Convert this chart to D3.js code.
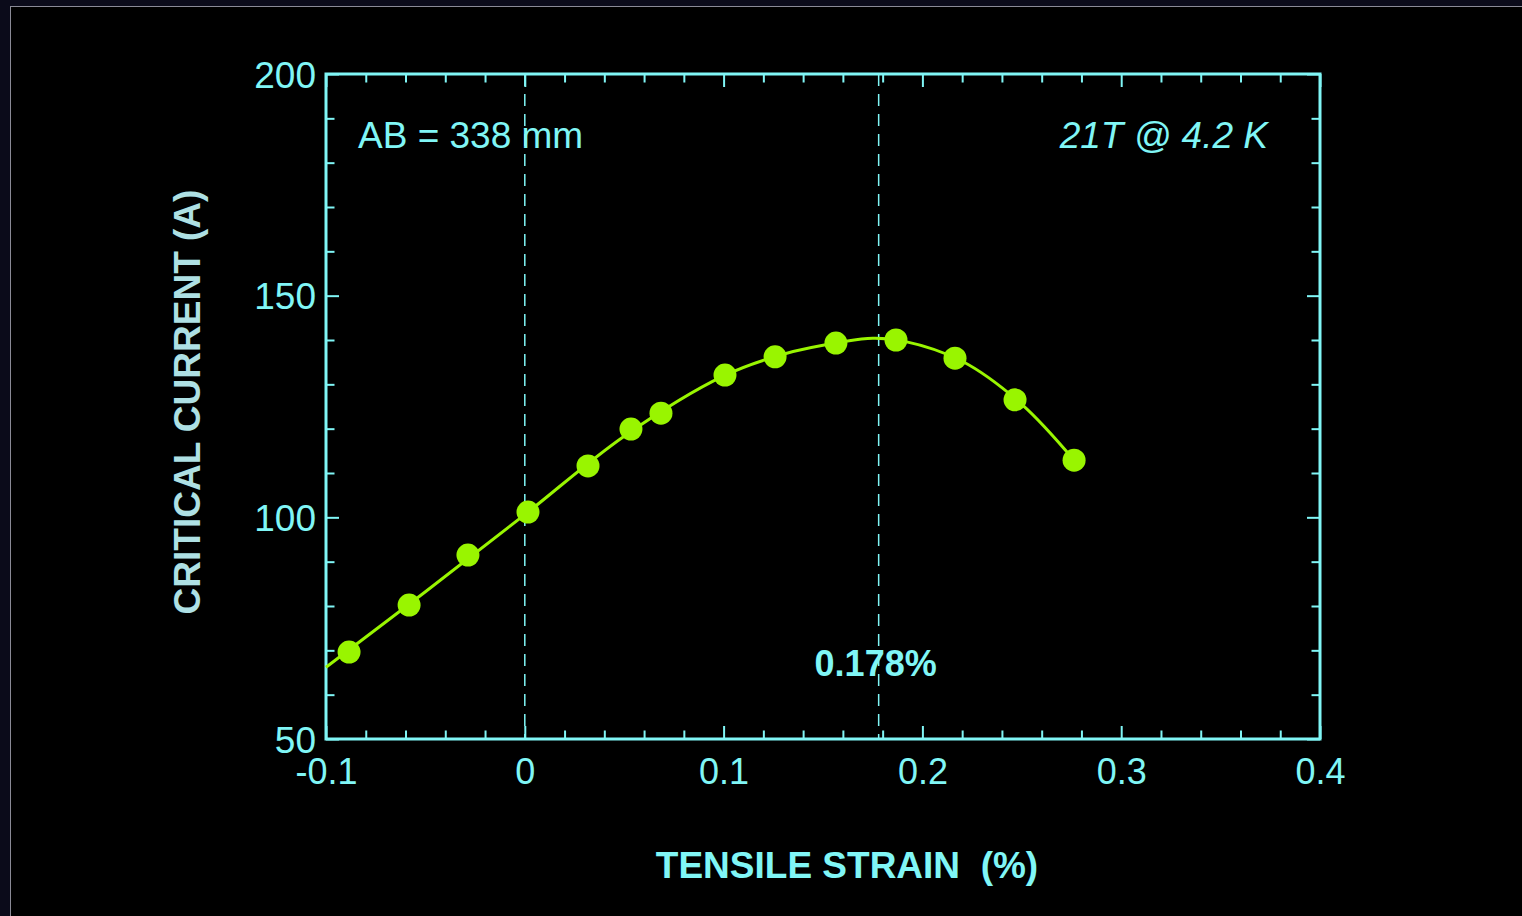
<!DOCTYPE html>
<html>
<head>
<meta charset="utf-8">
<script src="https://cdn.jsdelivr.net/npm/d3@7"></script>
<style>
  html, body { margin: 0; padding: 0; background: #0b0b1a; }
  svg { display: block; }
</style>
</head>
<body>
<svg id="chart" width="1522" height="916"></svg>
<script>
// Measured critical current vs. tensile strain
const strain = [-0.0884, -0.0582, -0.0286, 0.0016, 0.0318, 0.0534, 0.0685, 0.1007, 0.1259, 0.1565, 0.1867, 0.2164, 0.2466, 0.2763];
const current = [69.6, 80.2, 91.5, 101.2, 111.6, 119.9, 123.5, 132.1, 136.2, 139.3, 140.0, 135.9, 126.5, 112.9];

// Smooth fit through the measurements
const fitStrain = [-0.1, -0.05, 0.0, 0.05, 0.1, 0.13, 0.16, 0.175, 0.19, 0.22, 0.25, 0.2763];
const fitCurrent = [66.2, 83.2, 100.6, 118.3, 131.9, 136.8, 139.6, 140.4, 139.8, 135.2, 125.5, 112.9];

// Reference strains marked with dashed lines
const markers = [0, 0.178];
const peakLabel = "0.178%";

const xTicks = [-0.1, 0, 0.1, 0.2, 0.3, 0.4];
const yTicks = [50, 100, 150, 200];

const CYAN = "#80f6f6";
const GREEN = "#99f500";
const FONT = "'Liberation Sans', Arial, Helvetica, sans-serif";

const svg = d3.select("#chart");

// dark frame
svg.append("rect").attr("x", 10.5).attr("y", 6.5).attr("width", 1530).attr("height", 920)
  .attr("fill", "#000").attr("stroke", "#8a8a96").attr("stroke-width", 1);

const L = 326, R = 1320, T = 74, B = 739;
const x = d3.scaleLinear().domain([-0.1, 0.4]).range([L, R]);
const y = d3.scaleLinear().domain([50, 200]).range([B, T]);

const minorX = d3.range(-0.1, 0.4001, 0.02).map(v => +v.toFixed(3));
const minorY = d3.range(50, 200.1, 10);

const isMajorX = v => Math.abs(v * 10 - Math.round(v * 10)) < 1e-6;
const isMajorY = v => v % 50 === 0;

// tick marks, all pointing into the plot
const axes = [
  { gen: d3.axisBottom(x), tr: `translate(0,${B})`, vals: minorX, major: isMajorX, sign: -1, horiz: true },
  { gen: d3.axisTop(x), tr: `translate(0,${T})`, vals: minorX, major: isMajorX, sign: 1, horiz: true },
  { gen: d3.axisLeft(y), tr: `translate(${L},0)`, vals: minorY, major: isMajorY, sign: 1, horiz: false },
  { gen: d3.axisRight(y), tr: `translate(${R},0)`, vals: minorY, major: isMajorY, sign: -1, horiz: false }
];
axes.forEach(a => {
  const g = svg.append("g").attr("transform", a.tr)
    .call(a.gen.tickValues(a.vals).tickSize(0).tickFormat(""));
  g.select(".domain").remove();
  g.selectAll(".tick text").remove();
  g.selectAll(".tick line").each(function(d) {
    const len = a.major(d) ? 13 : 8.5;
    const el = d3.select(this).attr("stroke", CYAN).attr("stroke-width", 2);
    if (a.horiz) el.attr("y1", 0).attr("y2", a.sign * len);
    else el.attr("x1", 0).attr("x2", a.sign * len);
  });
});

// plot frame
svg.append("rect").attr("x", L).attr("y", T).attr("width", R - L).attr("height", B - T)
  .attr("fill", "none").attr("stroke", CYAN).attr("stroke-width", 3);

// tick labels (plain hyphen for negatives)
svg.append("g").attr("transform", `translate(0,${B})`)
  .call(d3.axisBottom(x).tickValues(xTicks).tickSize(0).tickPadding(0).tickFormat(d => String(d)))
  .call(g => g.select(".domain").remove())
  .selectAll("text")
  .attr("y", 45).attr("dy", null)
  .attr("fill", CYAN).attr("font-family", FONT).attr("font-size", 36);

svg.append("g").attr("transform", `translate(${L},0)`)
  .call(d3.axisLeft(y).tickValues(yTicks).tickSize(0).tickPadding(0))
  .call(g => g.select(".domain").remove())
  .selectAll("text")
  .attr("x", -10).attr("dy", "0.36em")
  .attr("fill", CYAN).attr("font-family", FONT).attr("font-size", 37);

// dashed reference lines
svg.selectAll(".marker").data(markers).join("line")
  .attr("class", "marker")
  .attr("x1", d => x(d)).attr("x2", d => x(d))
  .attr("y1", T).attr("y2", B)
  .attr("stroke", CYAN).attr("stroke-width", 1.5).attr("stroke-dasharray", "12,8");

// fit curve
const fitData = fitStrain.map((s, i) => [s, fitCurrent[i]]);
svg.append("path").datum(fitData)
  .attr("d", d3.line().x(d => x(d[0])).y(d => y(d[1])).curve(d3.curveCatmullRom.alpha(0.5)))
  .attr("fill", "none").attr("stroke", GREEN).attr("stroke-width", 3);

// measured points
svg.selectAll(".pt").data(strain.map((s, i) => [s, current[i]])).join("circle")
  .attr("class", "pt")
  .attr("cx", d => x(d[0])).attr("cy", d => y(d[1])).attr("r", 11.5)
  .attr("fill", GREEN);

// annotations
svg.append("text").attr("x", 358).attr("y", 148)
  .attr("fill", CYAN).attr("font-family", FONT).attr("font-size", 37)
  .text("AB = 338 mm");

svg.append("text").attr("x", 1268).attr("y", 148).attr("text-anchor", "end")
  .attr("fill", CYAN).attr("font-family", FONT).attr("font-size", 37).attr("font-style", "italic")
  .text("21T @ 4.2 K");

svg.append("text").attr("x", x(markers[1]) - 3).attr("y", 676).attr("text-anchor", "middle")
  .attr("fill", CYAN).attr("font-family", FONT).attr("font-size", 36).attr("font-weight", "bold")
  .text(peakLabel);

// axis titles
svg.append("text").attr("x", 847).attr("y", 878).attr("text-anchor", "middle")
  .attr("fill", CYAN).attr("font-family", FONT).attr("font-size", 37).attr("font-weight", "bold")
  .attr("xml:space", "preserve").style("white-space", "pre")
  .text("TENSILE STRAIN  (%)");

svg.append("text").attr("transform", "translate(200,402) rotate(-90)").attr("text-anchor", "middle")
  .attr("fill", "#aee0e4").attr("font-family", FONT).attr("font-size", 37).attr("font-weight", "bold")
  .text("CRITICAL CURRENT (A)");
</script>
</body>
</html>
